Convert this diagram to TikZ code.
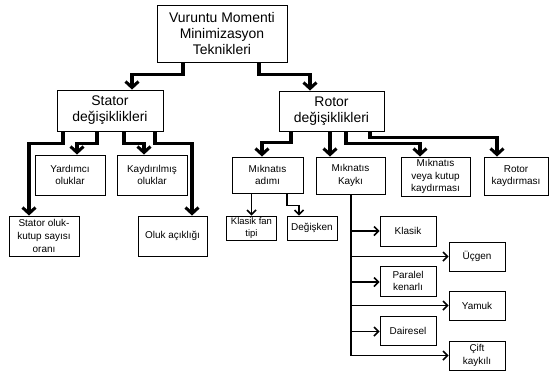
\documentclass[tikz,border=0pt]{standalone}
\usepackage{fontspec}
\setmainfont{Liberation Sans}
\usetikzlibrary{arrows.meta}
\tikzset{
  box/.style={draw, line width=0.9bp, inner sep=0pt, align=center, fill=white},
  bigbox/.style={box, font=\fontsize{14}{16}\selectfont},
  smallbox/.style={box, font=\fontsize{10}{12.8}\selectfont},
  tinybox/.style={box, font=\fontsize{9.5}{12}\selectfont},
  thickarrow/.style={line width=3.3bp, -{Straight Barb[length=6bp,width=13bp,line width=3bp]}},
  thinarrow/.style={line width=1.5bp, -{Straight Barb[length=4.5bp,width=9bp,line width=1.5bp]}},
  thinline/.style={line width=1.5bp}
}
\begin{document}
\begin{tikzpicture}[x=1bp,y=-1bp]
\useasboundingbox (0,0) rectangle (550,371);
% level 1
\node[bigbox, minimum width=130bp, minimum height=57bp] (top) at (222,33.5) {Vuruntu Momenti\\Minimizasyon\\Teknikleri};
% level 2
\node[bigbox, minimum width=106bp, minimum height=41bp] (stator) at (110,110.5) {Stator\\değişiklikleri};
\node[bigbox, minimum width=105bp, minimum height=40bp] (rotor) at (331.5,111) {Rotor\\değişiklikleri};
% stator children
\node[smallbox, minimum width=70bp, minimum height=40bp] (yard) at (70,175) {Yardımcı\\oluklar};
\node[smallbox, minimum width=70bp, minimum height=40bp] (kayd) at (152,175) {Kaydırılmış\\oluklar};
\node[smallbox, minimum width=70bp, minimum height=40bp] (soran) at (44,236) {Stator oluk-\\kutup sayısı\\oranı};
\node[smallbox, minimum width=69bp, minimum height=40bp] (oluk) at (172.5,236) {Oluk açıklığı};
% rotor children
\node[smallbox, minimum width=71bp, minimum height=36bp] (adim) at (267.5,175) {Mıknatıs\\adımı};
\node[smallbox, minimum width=69bp, minimum height=37bp] (kayki) at (350.5,175.5) {Mıknatıs\\Kaykı};
\node[smallbox, minimum width=69bp, minimum height=39bp] (veya) at (435.5,176.5) {Mıknatıs\\veya kutup\\kaydırması};
\node[smallbox, minimum width=64bp, minimum height=38bp] (rkayd) at (516,176) {Rotor\\kaydırması};
% adim children
\node[tinybox, minimum width=50bp, minimum height=24bp] (kfan) at (251.5,228) {Klasik fan\\tipi};
\node[smallbox, minimum width=50bp, minimum height=24bp] (degis) at (312,228) {Değişken};
% kayki children
\node[smallbox, minimum width=56bp, minimum height=30bp] (klasik) at (408,231) {Klasik};
\node[smallbox, minimum width=56bp, minimum height=29bp] (ucgen) at (477,256.5) {Üçgen};
\node[smallbox, minimum width=56bp, minimum height=30bp] (paralel) at (408,281) {Paralel\\kenarlı};
\node[smallbox, minimum width=56bp, minimum height=29bp] (yamuk) at (477,305.5) {Yamuk};
\node[smallbox, minimum width=56bp, minimum height=29bp] (daire) at (408,330.5) {Dairesel};
\node[smallbox, minimum width=56bp, minimum height=29bp] (cift) at (477,355.5) {Çift\\kaykılı};
% level 1 -> 2
\draw[thickarrow] ([xshift=-39bp]top.south) -- ++(0,12) -| ([xshift=22bp]stator.north);
\draw[thickarrow] ([xshift=37bp]top.south) -- ++(0,12) -| ([xshift=-21.5bp]rotor.north);
% stator -> children
\draw[thickarrow] ([xshift=-47bp]stator.south) -- ++(0,12) -| ([xshift=-15bp]soran.north);
\draw[thickarrow] ([xshift=-13bp]stator.south) -- ++(0,12) -| ([xshift=7bp]yard.north);
\draw[thickarrow] ([xshift=14bp]stator.south) -- ++(0,12) -| ([xshift=-8bp]kayd.north);
\draw[thickarrow] ([xshift=45bp]stator.south) -- ++(0,12) -| ([xshift=19.5bp]oluk.north);
% rotor -> children
\draw[thickarrow] ([xshift=-40.5bp]rotor.south) -- ++(0,11) -| ([xshift=-5.5bp]adim.north);
\draw[thickarrow] ([xshift=-1.5bp]rotor.south) -- ([xshift=-1.5bp]rotor.south |- kayki.north);
\draw[thickarrow] ([xshift=14.5bp]rotor.south) -- ++(0,12) -| ([xshift=-15.5bp]veya.north);
\draw[thickarrow] ([xshift=38.5bp]rotor.south) -- ++(0,6) -| ([xshift=-19bp]rkayd.north);
% adim -> children
\draw[thinarrow] (kfan.north |- adim.south) -- (kfan.north);
\draw[thinarrow] ([xshift=19.5bp]adim.south) -- ++(0,12) -| ([xshift=-13bp]degis.north);
% kayki trunk
\coordinate (trunkend) at ([xshift=0.5bp]kayki.south |- cift.west);
\draw[thinline] ([xshift=0.5bp]kayki.south) -- (trunkend);
\draw[thinarrow] (trunkend |- klasik.west) -- (klasik.west);
\draw[thinarrow] (trunkend |- ucgen.west) -- (ucgen.west);
\draw[thinarrow] ([yshift=-1bp]trunkend |- paralel.west) -- ([yshift=-1bp]paralel.west);
\draw[thinarrow] (trunkend |- yamuk.west) -- (yamuk.west);
\draw[thinarrow] ([yshift=-1bp]trunkend |- daire.west) -- ([yshift=-1bp]daire.west);
\draw[thinarrow] ([xshift=-0.75bp]trunkend) -- (cift.west);
\end{tikzpicture}
\end{document}
